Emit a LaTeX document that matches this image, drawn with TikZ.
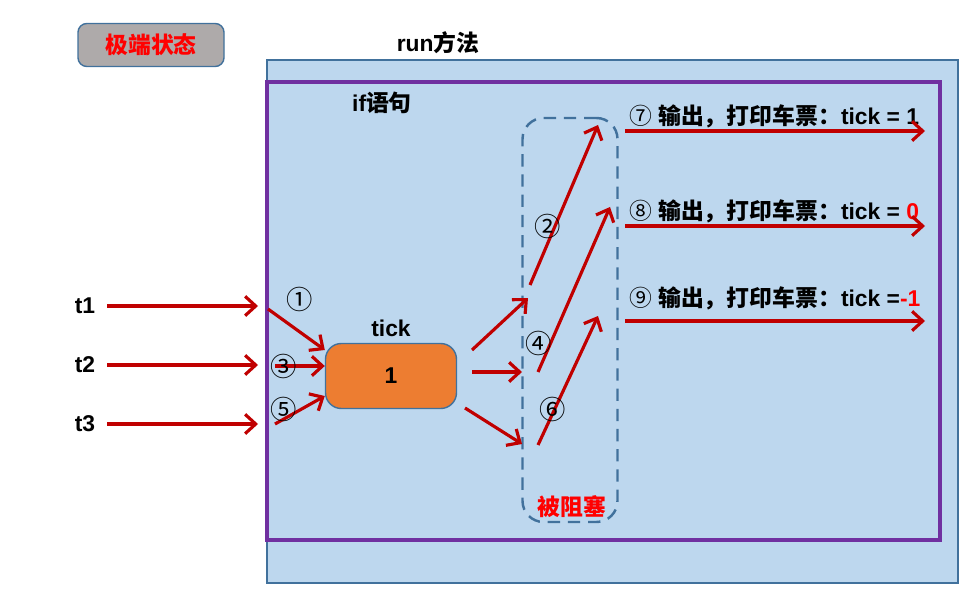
\documentclass[tikz,border=0pt]{standalone}
\usepackage{fontspec}
\setmainfont{Liberation Sans}
\newfontfamily\cjk{Noto Sans CJK SC}
\usetikzlibrary{arrows.meta,positioning}
\definecolor{runblue}{HTML}{BDD7EE}
\definecolor{edgeblue}{HTML}{41719C}
\definecolor{ifpurple}{HTML}{7030A0}
\definecolor{arrowred}{HTML}{C00000}
\definecolor{tickorange}{HTML}{ED7D31}
\definecolor{stategray}{HTML}{AEAAAA}
\newcommand\zh[1]{{\cjk\bfseries #1}}
\newcommand\cnum[1]{{\cjk\mdseries #1}}
\tikzset{
  lbl/.style={font=\bfseries\fontsize{13}{15}\selectfont, inner sep=1pt},
  numlbl/.style={font=\fontsize{15}{17}\selectfont, inner sep=0pt},
  outlbl/.style={lbl, anchor=west},
  statebox/.style={draw=edgeblue, fill=stategray, rounded corners=5pt, thick,
    minimum width=146*0.02cm, minimum height=43*0.02cm},
  tickbox/.style={draw=edgeblue, fill=tickorange, rounded corners=9pt, thick,
    minimum width=131*0.02cm, minimum height=65*0.02cm},
  waitbox/.style={draw=edgeblue, dashed, dash pattern=on 7pt off 4.5pt,
    line width=1.4pt, rounded corners=12pt},
  redarrow/.style={-{Straight Barb[length=6pt,width=11pt]}, line width=1.8pt, arrowred}
}
\begin{document}
\begin{tikzpicture}[x=0.02cm, y=-0.02cm]
\useasboundingbox (0,0) rectangle (979,604);

% run method and if block
\draw[edgeblue, fill=runblue, thick] (267,60) rectangle (958,583);
\draw[ifpurple, line width=2pt] (267,82) rectangle (940,540);
\node[statebox] (state) at (151,45) {};
\node[lbl, text=red] at (state) {\zh{极端状态}};
\node[lbl] (run) at (438,43) {run\zh{方法}};
\node[lbl] (ifst) at (382,103) {if\zh{语句}};

% threads
\node[lbl] (t1) at (85,306) {t1};
\node[lbl] (t2) at (85,365) {t2};
\node[lbl] (t3) at (85,424) {t3};
\coordinate (t1e) at (258,306);
\coordinate (t2e) at (258,365);
\coordinate (t3e) at (258,424);
\draw[redarrow] (107,306) -- (t1e);
\draw[redarrow] (107,365) -- (t2e);
\draw[redarrow] (107,424) -- (t3e);

% ticket counter
\node[tickbox] (tick) at (391,376) {};
\node[lbl] at (tick.center) {1};
\node[lbl, above=2pt of tick] (ticklbl) {tick};
\draw[redarrow] (268,309) -- (tick.west |- 0,350);
\draw[redarrow] (275,366) -- (tick.west |- 0,366);
\draw[redarrow] (275,424) -- (tick.west |- 0,396);
\node[numlbl] (n1) at (300,299) {\cnum{①}};
\node[numlbl] (n3) at (284,366) {\cnum{③}};
\node[numlbl] (n5) at (284,409) {\cnum{⑤}};

% blocked area
\node[waitbox, minimum width=95*0.02cm, minimum height=404*0.02cm] (wait) at (570,320) {};
\node[lbl, text=red] (blocked) at (572,507) {\zh{被阻塞}};
\coordinate (b1) at (528,298);
\coordinate (b2) at (522,372);
\coordinate (b3) at (522,444);
\draw[redarrow] (472,350) -- (b1);
\draw[redarrow] (472,372) -- (b2);
\draw[redarrow] (465,408) -- (b3);
\coordinate (w1) at (598,125);
\coordinate (w2) at (610,207);
\coordinate (w3) at (598,316);
\draw[redarrow] (530,285) -- (w1);
\draw[redarrow] (538,372) -- (w2);
\draw[redarrow] (538,445) -- (w3);
\node[numlbl] (n2) at (548,226) {\cnum{②}};
\node[numlbl] (n4) at (539,343) {\cnum{④}};
\node[numlbl] (n6) at (553,409) {\cnum{⑥}};

% outputs
\node[outlbl] (o1) at (627,116) {\cnum{⑦} \zh{输出，打印车票：}tick = 1};
\node[outlbl] (o2) at (627,211) {\cnum{⑧} \zh{输出，打印车票：}tick = \textcolor{red}{0}};
\node[outlbl] (o3) at (627,298) {\cnum{⑨} \zh{输出，打印车票：}tick =\textcolor{red}{-1}};
\coordinate (e1) at (925,131);
\coordinate (e2) at (925,226);
\coordinate (e3) at (925,321);
\draw[redarrow] (625,131) -- (e1);
\draw[redarrow] (625,226) -- (e2);
\draw[redarrow] (625,321) -- (e3);
\end{tikzpicture}
\end{document}
